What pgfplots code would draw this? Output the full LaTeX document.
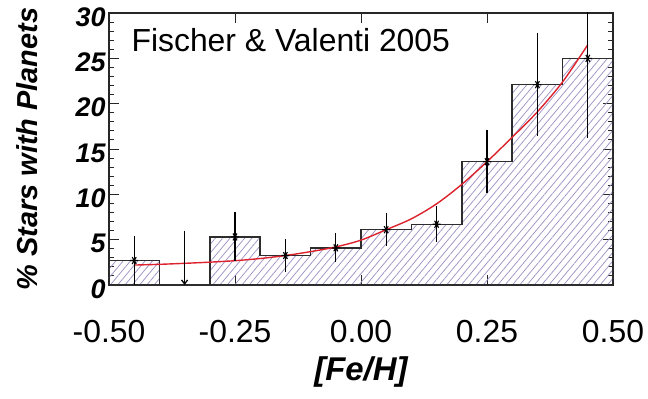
\documentclass[border=0pt]{standalone}
\usepackage{pgfplots}
\pgfplotsset{compat=1.18}
\usepackage{fontspec}
\setmainfont{Liberation Sans}
\usetikzlibrary{patterns.meta,arrows.meta}
\definecolor{hatch}{RGB}{160,148,198}
\definecolor{fitred}{RGB}{220,35,45}
\definecolor{histline}{RGB}{45,45,45}
\begin{document}
\begin{tikzpicture}
\begin{axis}[
  scale only axis, width=504bp, height=272bp,
  xmin=-0.5, xmax=0.5, ymin=0, ymax=30,
  axis line style={line width=1.2bp, black!85},
  tick style={line width=1bp, black!85},
  tick align=inside,
  major tick length=10bp, minor tick length=5bp,
  xtick={-0.5,-0.25,0,0.25,0.5},
  xticklabels={-0.50,-0.25,0.00,0.25,0.50},
  ytick={0,5,10,15,20,25,30},
  minor y tick num=4,
  /pgf/number format/assume math mode=true,
  xticklabel style={font=\fontsize{32}{32}\selectfont, anchor=center, yshift=-47bp},
  yticklabel style={font=\fontsize{27}{27}\selectfont\bfseries\itshape, yshift=-4bp},
  xlabel={{[Fe/H]}},
  xlabel style={font=\fontsize{33}{33}\selectfont\bfseries\itshape, at={(axis description cs:0.5,0)}, anchor=center, yshift=-87bp},
  ylabel={\% Stars with Planets},
  ylabel style={font=\fontsize{29}{29}\selectfont\bfseries\itshape, at={(axis description cs:-0.1627,0.5)}, anchor=center, rotate=0},
]
% histogram
\addplot[const plot, draw=histline, line width=1.5bp, pattern={Lines[angle=50, distance=5.6bp, line width=0.75bp]}, pattern color=hatch] coordinates {
(-0.5,2.7) (-0.4,0) (-0.3,5.3) (-0.2,3.25) (-0.1,4.1) (0.0,6.1) (0.1,6.7) (0.2,13.6) (0.3,22.1) (0.4,25.0) (0.5,25.0)
} \closedcycle;
% fit curve
\addplot[fitred, line width=1.4bp, smooth, mark=none] coordinates {
(-0.45,2.2) (-0.40,2.28) (-0.35,2.39) (-0.30,2.52) (-0.25,2.68) (-0.20,2.92) (-0.15,3.25) (-0.10,3.68) (-0.05,4.2) (0.00,4.95) (0.05,6.1) (0.10,7.3) (0.15,8.95) (0.20,11.1) (0.25,13.6) (0.30,16.3) (0.35,19.1) (0.40,22.4) (0.45,26.5)
};
% data points with error bars
\addplot[black, line width=1.3bp, only marks, mark=asterisk, mark size=4bp, mark options={rotate=90, line width=1.1bp},
  error bars/.cd, y dir=both, y explicit, error mark=none, error bar style={line width=1.3bp}] coordinates {
(-0.45,2.7) +- (0,2.7)
(-0.25,5.3) +- (0,2.7)
(-0.15,3.25) +- (0,1.85)
(-0.05,4.1) +- (0,1.6)
(0.05,6.1) +- (0,1.85)
(0.15,6.7) +- (0,2.0)
(0.25,13.6) +- (0,3.5)
(0.35,22.1) +- (0,5.7)
(0.45,25.0) +- (0,8.8)
};
% upper limit bin
\addplot[black, line width=1.3bp, -{Straight Barb[length=4bp, width=6bp]}, quiver={u=0, v=-6}] coordinates {(-0.35,6.0)};
\node[anchor=base west, inner sep=0pt, font=\fontsize{32}{32}\selectfont] at (axis description cs:0.0444,0.858) {Fischer \& Valenti 2005};
\end{axis}
\pgfresetboundingbox
\useasboundingbox (-109bp,-114bp) rectangle (539bp,285bp);
\end{tikzpicture}
\end{document}
